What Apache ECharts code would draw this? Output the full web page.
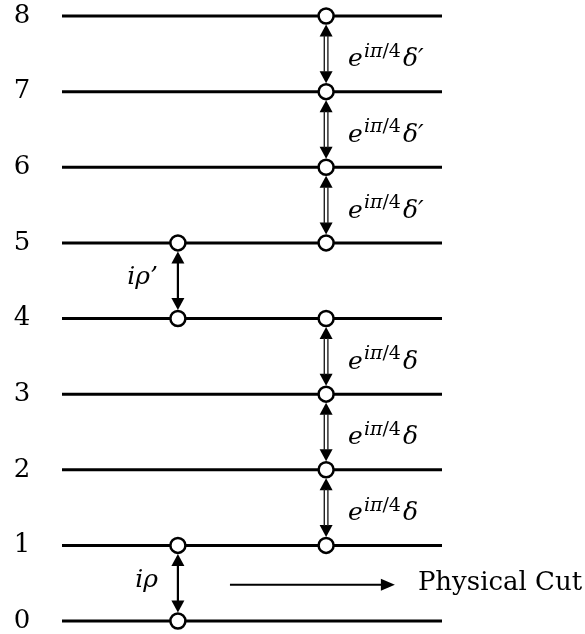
<!DOCTYPE html>
<html><head><meta charset="utf-8">
<script src="https://cdn.jsdelivr.net/npm/echarts@6/dist/echarts.min.js"></script>
<style>html,body{margin:0;padding:0;background:#fff}#c{width:585px;height:634px}</style>
</head><body><div id="c"></div>
<script>
// ---- data ----
const levels = [0, 1, 2, 3, 4, 5, 6, 7, 8];
const levelLabels = ['0', '1', '2', '3', '4', '5', '6', '7', '8'];
const colRho = 0.305;     // x of left column (data units)
const colDelta = 0.695;   // x of right column (data units)
const nodesRho = [0, 1, 4, 5];
const nodesDelta = [1, 2, 3, 4, 5, 6, 7, 8];
const rhoLinks = [[0, 1], [4, 5]];
const rhoLabels = ['iρ', 'iρ’'];
const deltaLinks = [[1, 2], [2, 3], [3, 4], [5, 6], [6, 7], [7, 8]];
const deltaLabels = ['δ', 'δ', 'δ', 'δ′', 'δ′', 'δ′'];
const cutArrow = [[0.442, 0.5], [0.876, 0.5]];
const cutText = 'Physical Cut';

const SERIF = '"DejaVu Serif", "Liberation Serif", serif';
const chart = echarts.init(document.getElementById('c'), null, {renderer: 'canvas'});

function arrowShapes(api, x, y1, y2, dbl) {
  const a = api.coord([x, y1]), b = api.coord([x, y2]);
  const px = a[0];
  const r = 8.5, hl = 12, hw = 6.5;
  const botTip = a[1] - r, topTip = b[1] + r;
  const ch = [
    {type: 'polygon', shape: {points: [[px, topTip], [px - hw, topTip + hl], [px + hw, topTip + hl]]}, style: {fill: '#000'}},
    {type: 'polygon', shape: {points: [[px, botTip], [px - hw, botTip - hl], [px + hw, botTip - hl]]}, style: {fill: '#000'}}
  ];
  if (dbl) {
    [-1.8, 1.8].forEach(function (d) {
      ch.push({type: 'line', shape: {x1: px + d, y1: topTip + hl - 1, x2: px + d, y2: botTip - hl + 1}, style: {stroke: '#222', lineWidth: 1.4}});
    });
  } else {
    ch.push({type: 'line', shape: {x1: px, y1: topTip + hl - 1, x2: px, y2: botTip - hl + 1}, style: {stroke: '#000', lineWidth: 2.2}});
  }
  return ch;
}

const option = {
  animation: false,
  backgroundColor: '#fff',
  grid: {left: 62, right: 143, top: 16, bottom: 11},
  xAxis: {type: 'value', min: 0, max: 1, show: false},
  yAxis: {
    type: 'value', min: 0, max: 8, interval: 1,
    axisLine: {show: false}, axisTick: {show: false}, splitLine: {show: false},
    axisLabel: {
      margin: 40, align: 'center', color: '#000', fontFamily: SERIF, fontSize: 26,
      formatter: function (v) { return levelLabels[levels.indexOf(v)]; }
    }
  },
  series: [
    {
      type: 'custom', z: 1,
      data: levels.map(function (l) { return [0, l, 1]; }),
      encode: {x: [0, 2], y: 1},
      renderItem: function (p, api) {
        const a = api.coord([api.value(0), api.value(1)]);
        const b = api.coord([api.value(2), api.value(1)]);
        return {type: 'line', shape: {x1: a[0], y1: a[1], x2: b[0], y2: b[1]}, style: {stroke: '#000', lineWidth: 3}};
      }
    },
    {
      type: 'custom', z: 2,
      data: rhoLinks.map(function (l, i) { return [colRho, l[0], l[1], i]; }),
      encode: {x: 0, y: [1, 2]},
      renderItem: function (p, api) {
        const x = api.value(0), y1 = api.value(1), y2 = api.value(2);
        const ch = arrowShapes(api, x, y1, y2, false);
        const m = api.coord([x, (y1 + y2) / 2]);
        ch.push({type: 'text', x: m[0] - 20, y: m[1] - 3, style: {
          text: rhoLabels[api.value(3)], fontFamily: SERIF, fontStyle: 'italic', fontSize: 25,
          fill: '#000', align: 'right', verticalAlign: 'middle'}});
        return {type: 'group', children: ch};
      }
    },
    {
      type: 'custom', z: 2,
      data: deltaLinks.map(function (l, i) { return [colDelta, l[0], l[1], i]; }),
      encode: {x: 0, y: [1, 2]},
      renderItem: function (p, api) {
        const x = api.value(0), y1 = api.value(1), y2 = api.value(2);
        const ch = arrowShapes(api, x, y1, y2, true);
        const m = api.coord([x, (y1 + y2) / 2]);
        ch.push({type: 'text', x: m[0] + 22, y: m[1] + 3.5, style: {
          text: '{e|e}{s|iπ}{u|/4}{d|' + deltaLabels[api.value(3)] + '}',
          align: 'left', verticalAlign: 'middle',
          rich: {
            e: {fontFamily: SERIF, fontStyle: 'italic', fontSize: 25, fill: '#000', lineHeight: 30, verticalAlign: 'bottom'},
            s: {fontFamily: SERIF, fontStyle: 'italic', fontSize: 19, fill: '#000', lineHeight: 13, verticalAlign: 'top', padding: [0, 0, 0, 1]},
            u: {fontFamily: SERIF, fontSize: 19, fill: '#000', lineHeight: 13, verticalAlign: 'top'},
            d: {fontFamily: SERIF, fontStyle: 'italic', fontSize: 25, fill: '#000', lineHeight: 30, verticalAlign: 'bottom', padding: [0, 0, 0, 2]}
          }}});
        return {type: 'group', children: ch};
      }
    },
    {
      type: 'scatter', z: 5, symbol: 'circle', symbolSize: 15,
      itemStyle: {color: '#fff', borderColor: '#000', borderWidth: 2.5, opacity: 1},
      data: nodesRho.map(function (l) { return [colRho, l]; }).concat(nodesDelta.map(function (l) { return [colDelta, l]; }))
    },
    {
      type: 'custom', z: 3,
      data: [[cutArrow[0][0], cutArrow[0][1], cutArrow[1][0], cutArrow[1][1]]],
      encode: {x: [0, 2], y: [1, 3]},
      renderItem: function (p, api) {
        const a = api.coord([api.value(0), api.value(1)]);
        const b = api.coord([api.value(2), api.value(3)]);
        const y = a[1] + 1.5, hl = 14, hw = 6;
        return {type: 'group', children: [
          {type: 'line', shape: {x1: a[0], y1: y, x2: b[0] - hl + 1, y2: y}, style: {stroke: '#000', lineWidth: 2}},
          {type: 'polygon', shape: {points: [[b[0], y], [b[0] - hl, y - hw], [b[0] - hl, y + hw]]}, style: {fill: '#000'}},
          {type: 'text', x: b[0] + 23, y: y - 1, style: {text: cutText, fontFamily: SERIF, fontSize: 26, fill: '#000', align: 'left', verticalAlign: 'middle'}}
        ]};
      }
    }
  ]
};
chart.setOption(option);
</script>
</body></html>
